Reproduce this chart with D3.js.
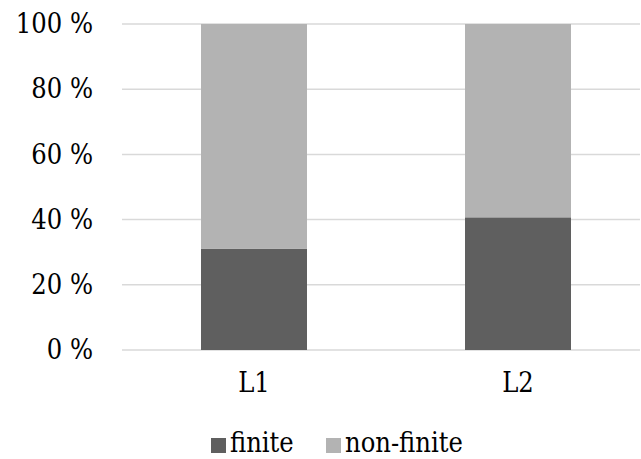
<!DOCTYPE html>
<html><head><meta charset="utf-8">
<script src="https://cdn.jsdelivr.net/npm/d3@7"></script>
<style>body{margin:0;background:#fff}svg{display:block}</style>
</head><body><svg id="c" width="641" height="459"></svg>
<script>
const categories = ["L1", "L2"];
const finite = [31, 40.7];
const nonFinite = [69, 59.3];
const seriesNames = ["finite", "non-finite"];
const seriesColors = ["#5f5f5f", "#b3b3b3"];
const yTicks = [0, 20, 40, 60, 80, 100];

const FONT = "'DejaVu Serif Condensed', 'DejaVu Serif', serif";
const FS = 27;
const svg = d3.select("#c");
const x = d3.scaleBand().domain(categories).range([122, 650]).paddingInner(0.6).paddingOuter(0.3);
const y = d3.scaleLinear().domain([0, 100]).range([350, 24]);

svg.append("g").selectAll("line").data(yTicks).join("line")
  .attr("x1", 122).attr("x2", 640)
  .attr("y1", d => y(d)).attr("y2", d => y(d))
  .attr("stroke", "#d9d9d9").attr("stroke-width", 1.5);

const yAxis = d3.axisLeft(y).tickValues(yTicks).tickFormat(d => d + " %").tickSize(0).tickPadding(0);
const ya = svg.append("g").attr("transform", "translate(93,0)").call(yAxis);
ya.select(".domain").remove();
ya.attr("font-family", FONT).attr("font-size", FS).style("font-stretch", "condensed");
ya.selectAll("text").attr("fill", "#000");

const rows = categories.map((c, i) => ({cat: c, finite: finite[i], "non-finite": nonFinite[i]}));
const stack = d3.stack().keys(seriesNames)(rows);
const bw = 106;
svg.append("g").selectAll("g").data(stack).join("g")
  .attr("fill", (d, i) => seriesColors[i])
  .selectAll("rect").data(d => d).join("rect")
  .attr("x", d => x(d.data.cat) + x.bandwidth() / 2 - bw / 2)
  .attr("width", bw)
  .attr("y", d => y(d[1]))
  .attr("height", d => y(d[0]) - y(d[1]));

const xAxis = d3.axisBottom(x).tickSize(0).tickPadding(0);
const xa = svg.append("g").attr("transform", "translate(0,373)").call(xAxis);
xa.select(".domain").remove();
xa.attr("font-family", FONT).attr("font-size", FS).style("font-stretch", "condensed");
xa.selectAll("text").attr("fill", "#000");

const legendX = [211, 326];
const lg = svg.append("g").attr("font-family", FONT).attr("font-size", FS).style("font-stretch", "condensed");
seriesNames.forEach((n, i) => {
  lg.append("rect").attr("x", legendX[i]).attr("y", 438).attr("width", 15).attr("height", 15).attr("fill", seriesColors[i]);
  lg.append("text").attr("x", legendX[i] + 19).attr("y", 452).attr("fill", "#000").text(n);
});
</script></body></html>
